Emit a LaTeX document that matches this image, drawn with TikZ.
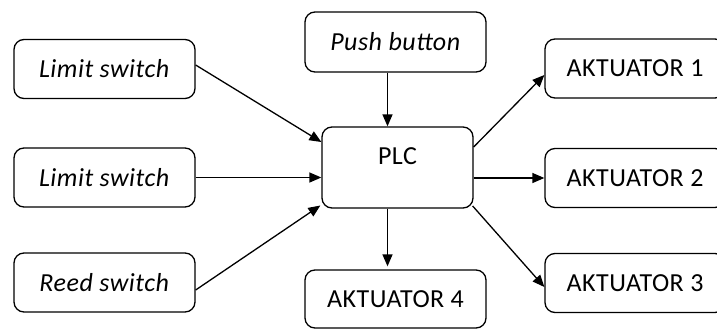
\documentclass[tikz,border=0pt]{standalone}
\usepackage{fontspec}
\setmainfont{Carlito}[LetterSpace=2]
\usetikzlibrary{arrows.meta}
\begin{document}
\begin{tikzpicture}[x=1pt,y=-1pt,
  box/.style={draw, line width=1.3pt, rounded corners=10pt, minimum width=181pt, minimum height=59pt, inner sep=0pt, font=\fontsize{26}{30}\selectfont},
  conn/.style={line width=1.3pt, -{Triangle[length=12pt,width=10pt]}}]
\clip (0,0) rectangle (717,329);
\fill[white] (0,0) rectangle (717,329);
\node[box] (lim1) at (104.5,69) {\textit{Limit switch}};
\node[box] (lim2) at (104.5,177.5) {\textit{Limit switch}};
\node[box] (reed) at (104.5,282.5) {\textit{Reed switch}};
\node[box, minimum height=60pt] (push) at (395.5,42) {\textit{Push button}};
\node[box, minimum width=151pt, minimum height=81pt, text height=17pt, text depth=23pt] (plc) at (397.5,167.5) {PLC};
\node[box, minimum height=58pt] (a4) at (395.5,299) {AKTUATOR 4};
\node[box, minimum width=180pt] (a1) at (635,68.5) {AKTUATOR 1};
\node[box, minimum width=180pt] (a2) at (635,178) {AKTUATOR 2};
\node[box, minimum width=180pt] (a3) at (635,283) {AKTUATOR 3};
\draw[conn] ([yshift=4pt]lim1.east) -- ([yshift=25.5pt]plc.west);
\draw[conn] (lim2.east) -- (lim2.east -| plc.west);
\draw[conn] ([yshift=-7.5pt]reed.east) -- ([xshift=-1pt,yshift=-38pt]plc.west);
\draw[conn] ([xshift=-8pt]push.south) -- ([xshift=-8pt]push.south |- plc.north);
\draw[conn] ([xshift=-10pt]plc.south) -- ([xshift=-10pt,yshift=3pt]plc.south |- a4.north);
\draw[conn] ([yshift=20.5pt]plc.east) -- ([yshift=-6.5pt]a1.west);
\draw[conn] (plc.east |- a2.west) -- (a2.west);
\draw[conn] ([xshift=-1pt,yshift=-38.5pt]plc.east) -- ([yshift=-4pt]a3.west);
\end{tikzpicture}
\end{document}
